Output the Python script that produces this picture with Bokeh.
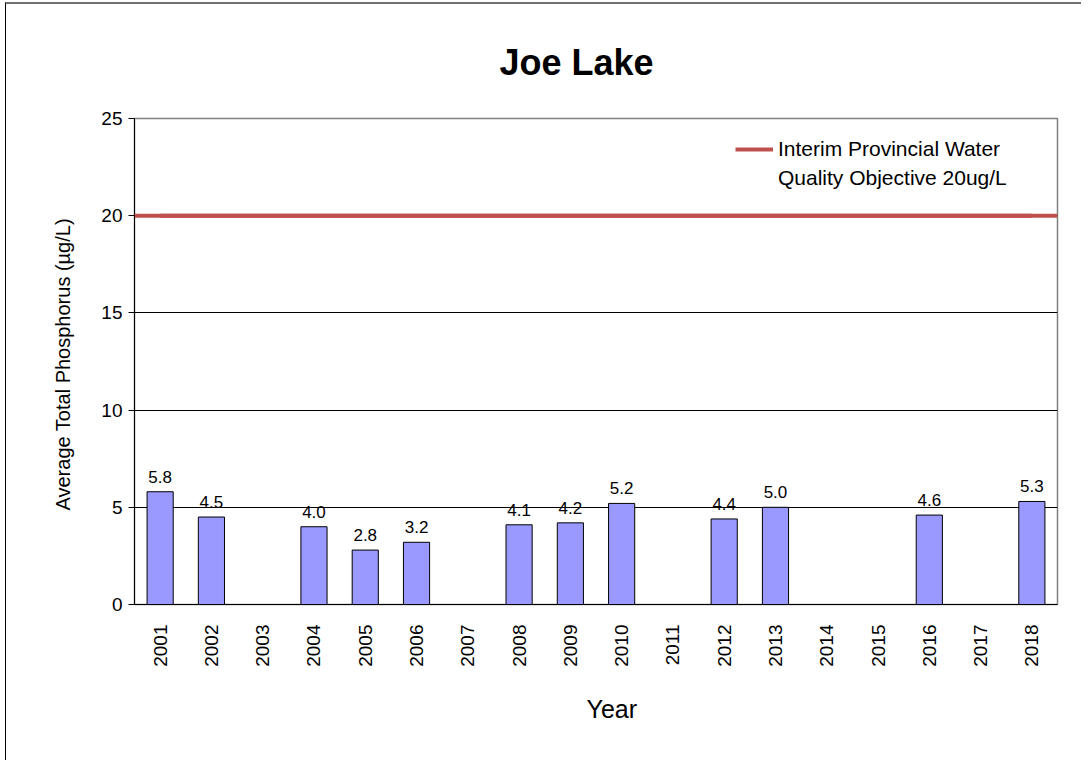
import math
from bokeh.plotting import figure
from bokeh.models import (ColumnDataSource, Span, Legend, LegendItem, Title,
                          FixedTicker)
from bokeh.core.properties import value
from bokeh.embed import file_html
from bokeh.resources import INLINE

# ---- data ----
years = ["2001", "2002", "2003", "2004", "2005", "2006", "2007", "2008", "2009",
         "2010", "2011", "2012", "2013", "2014", "2015", "2016", "2017", "2018"]
bar_years = ["2001", "2002", "2004", "2005", "2006", "2008", "2009", "2010",
             "2012", "2013", "2016", "2018"]
tp_values = [5.8, 4.5, 4.0, 2.8, 3.2, 4.1, 4.2, 5.2, 4.4, 5.0, 4.6, 5.3]
objective = 20
y_ticks = [0, 5, 10, 15, 20, 25]
grid_ticks = [5, 10, 15, 20]
legend_lines = ["Interim Provincial Water", "Quality Objective 20ug/L"]

FONT = "Liberation Sans"
RED = "#C0504D"

src = ColumnDataSource(dict(
    year=bar_years,
    tp=tp_values,
    lbl=[f"{v:.1f}" for v in tp_values],
))

p = figure(x_range=years, y_range=(0, 25), width=1076, height=758,
           output_backend="svg", toolbar_location=None,
           min_border_left=128, min_border_right=25,
           min_border_top=0, min_border_bottom=158)
p.styles = {"border-left": "1px solid #000000", "border-top": "2px solid #707070",
            "margin-left": "5px", "margin-top": "2px"}

p.title.text = "Joe Lake"
p.title.text_font = FONT
p.title.text_font_size = "36px"
p.title.text_font_style = "bold"
p.title.text_color = "black"
p.title.align = "left"
p.title.offset = 365
p.title.standoff = 71

p.outline_line_color = "#808080"
p.outline_line_width = 1.5
p.background_fill_color = "white"
p.border_fill_color = "white"

# grid
p.xgrid.visible = False
p.ygrid.ticker = FixedTicker(ticks=grid_ticks)
p.ygrid.grid_line_color = "black"
p.ygrid.grid_line_width = 1

# y axis
p.yaxis.ticker = FixedTicker(ticks=y_ticks)
p.yaxis.axis_label = "Average Total Phosphorus  (µg/L)"
p.yaxis.axis_label_text_font = FONT
p.yaxis.axis_label_text_font_size = "20px"
p.yaxis.axis_label_text_font_style = "normal"
p.yaxis.axis_label_text_color = "black"
p.yaxis.axis_label_standoff = 24
p.yaxis.major_label_text_font = FONT
p.yaxis.major_label_text_font_size = "19px"
p.yaxis.major_label_text_color = "black"
p.yaxis.major_label_standoff = 6
p.yaxis.major_tick_out = 6
p.yaxis.major_tick_in = 0
p.yaxis.major_tick_line_color = "black"
p.yaxis.minor_tick_line_color = None
p.yaxis.axis_line_color = "black"

# x axis
p.xaxis.major_label_orientation = math.pi / 2
p.xaxis.major_label_text_font = FONT
p.xaxis.major_label_text_font_size = "19px"
p.xaxis.major_label_text_color = "black"
p.xaxis.major_label_standoff = 14
p.xaxis.major_tick_line_color = None
p.xaxis.minor_tick_line_color = None
p.xaxis.axis_line_color = "black"

# bars
p.vbar(x="year", top="tp", width=0.51, source=src,
       fill_color="#9999FF", line_color="black", line_width=1)

# data labels
p.text(x="year", y="tp", text="lbl", source=src,
       text_align="center", text_baseline="alphabetic", y_offset=-15,
       text_font=value(FONT), text_font_size=value("17px"), text_color="black")

# objective line
p.add_layout(Span(location=objective, dimension="width",
                  line_color=RED, line_width=4))
obj_r = p.line(x=[years[0], years[-1]], y=[objective, objective],
               line_color=RED, line_width=4)
blank_r = p.line(x=[years[0], years[-1]], y=[objective, objective], line_alpha=0)

# legend
legend = Legend(items=[LegendItem(label=legend_lines[0], renderers=[obj_r]),
                       LegendItem(label=legend_lines[1], renderers=[blank_r])],
                location=(601, 414), padding=0, margin=0, spacing=5,
                glyph_width=38, glyph_height=24, label_height=24,
                label_standoff=5, label_text_font=FONT,
                label_text_font_size="21px", label_text_color="black",
                border_line_alpha=0, background_fill_alpha=0)
p.add_layout(legend)

# x-axis title
p.add_layout(Title(text="Year", align="left", offset=452, standoff=46,
                   text_font=FONT, text_font_size="25px",
                   text_font_style="normal", text_color="black"), "below")

open("out.html", "w").write(file_html(p, INLINE))
